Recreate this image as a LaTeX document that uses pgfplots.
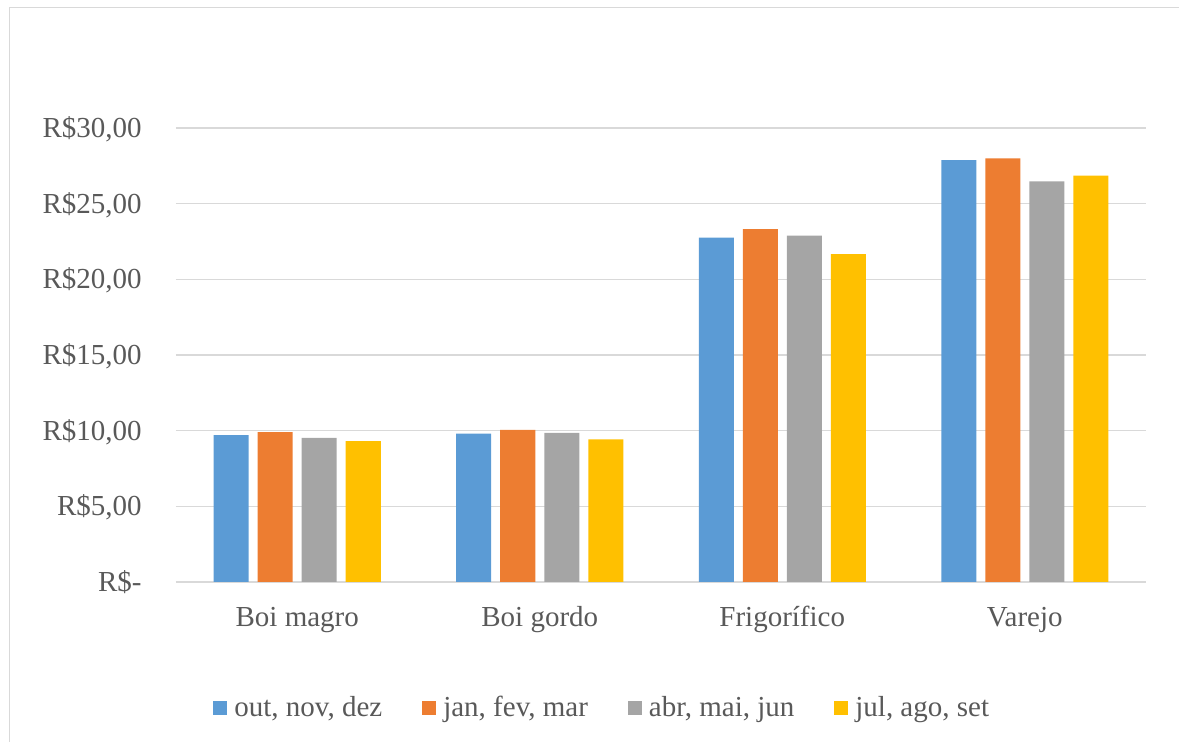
\documentclass[border=0pt]{standalone}
\usepackage{fontspec}
\setmainfont{Liberation Serif}
\usepackage{pgfplots}
\pgfplotsset{compat=1.18}
\definecolor{cBlue}{HTML}{5B9BD5}
\definecolor{cOrange}{HTML}{ED7D31}
\definecolor{cGray}{HTML}{A5A5A5}
\definecolor{cGold}{HTML}{FFC000}
\definecolor{cGrid}{HTML}{D9D9D9}
\definecolor{cText}{HTML}{595959}
\begin{document}
\begin{tikzpicture}[x=1pt,y=1pt]
\useasboundingbox (0,0) rectangle (589.5,371);
\draw[cGrid, line width=0.8pt] (4.75,-2) -- (4.75,367.25) -- (592,367.25);
\begin{axis}[
  at={(88pt,80pt)}, anchor=south west,
  scale only axis, width=485pt, height=227pt,
  xmin=-0.5, xmax=3.5, ymin=0, ymax=30,
  ybar=4.5pt, bar width=17.5pt,
  xtick={0,1,2,3},
  xticklabels={Boi magro, Boi gordo, Frigorífico, Varejo},
  ytick={0,5,10,15,20,25,30},
  yticklabels={R\$-, {R\$5,00}, {R\$10,00}, {R\$15,00}, {R\$20,00}, {R\$25,00}, {R\$30,00}},
  major tick length=0pt,
  ymajorgrids, grid style={cGrid, line width=0.8pt},
  axis x line*=bottom, axis y line*=left,
  x axis line style={cGrid, line width=0.8pt, -},
  y axis line style={draw=none},
  every tick label/.append style={font=\fontsize{14.5}{17}\selectfont, text=cText},
  yticklabel style={anchor=base east, inner sep=0pt, xshift=-17pt, yshift=-4.7pt},
  xticklabel style={anchor=base, inner sep=0pt, yshift=-22.5pt},
  legend columns=4,
  legend style={draw=none, fill=none, at={(0.442,-0.277)}, anchor=center,
    font=\fontsize{14.5}{17}\selectfont, text=cText,
    /tikz/every even column/.append style={column sep=16.5pt},
    nodes={inner sep=0pt, inner xsep=3.5pt}},
  legend image code/.code={\fill[#1] (0pt,-3.5pt) rectangle (7pt,3.5pt);},
]
\addplot[fill=cBlue, draw=none] coordinates {(0,9.70) (1,9.80) (2,22.76) (3,27.87)};
\addplot[fill=cOrange, draw=none] coordinates {(0,9.91) (1,10.05) (2,23.31) (3,28.00)};
\addplot[fill=cGray, draw=none] coordinates {(0,9.52) (1,9.85) (2,22.89) (3,26.48)};
\addplot[fill=cGold, draw=none] coordinates {(0,9.30) (1,9.43) (2,21.66) (3,26.85)};
\legend{{out, nov, dez}, {jan, fev, mar}, {abr, mai, jun}, {jul, ago, set}}
\end{axis}
\end{tikzpicture}
\end{document}
